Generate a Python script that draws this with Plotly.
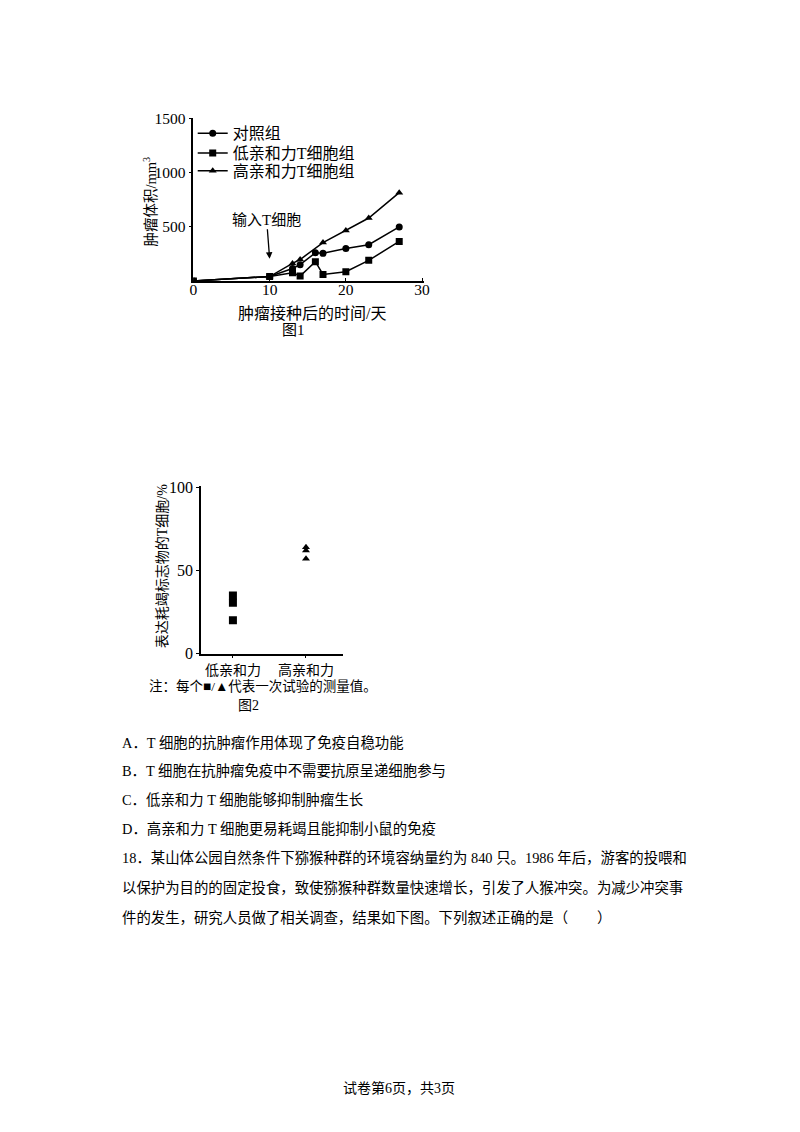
import plotly.graph_objects as go

# 图1: 肿瘤体积随时间变化
days_ctrl = [0, 10, 13, 14, 16, 17, 20, 23, 27]
vol_ctrl = [0, 40, 115, 150, 260, 255, 300, 335, 500]
days_low = [0, 10, 13, 14, 16, 17, 20, 23, 27]
vol_low = [0, 40, 75, 45, 178, 60, 85, 190, 365]
days_high = [0, 10, 13, 14, 17, 20, 23, 27]
vol_high = [0, 40, 162, 198, 355, 466, 582, 817]
series_names = ["对照组", "低亲和力T细胞组", "高亲和力T细胞组"]

# 图2: 表达耗竭标志物的T细胞/%
groups = ["低亲和力", "高亲和力"]
pct_low = [35, 30.5, 20]
pct_high = [64, 62, 57]

W, H = 800, 1132
OFF = 8  # page body margin
FONT = "Liberation Serif, Noto Sans CJK SC, serif"


def px(x):
    return (x - OFF) / W


def py(y):
    return 1 - (y - OFF) / H


fig = go.Figure()

line = dict(color="black", width=1.5)
fig.add_trace(go.Scatter(x=days_ctrl, y=vol_ctrl, name=series_names[0], mode="lines+markers",
                         line=line, marker=dict(symbol="circle", size=7, color="black"),
                         legend="legend"))
fig.add_trace(go.Scatter(x=days_low, y=vol_low, name=series_names[1], mode="lines+markers",
                         line=line, marker=dict(symbol="square", size=7, color="black"),
                         legend="legend2"))
fig.add_trace(go.Scatter(x=days_high, y=vol_high, name=series_names[2], mode="lines+markers",
                         line=line, marker=dict(symbol="triangle-up", size=7, color="black"),
                         legend="legend3"))

fig.add_trace(go.Scatter(x=[1] * len(pct_low), y=pct_low, mode="markers", showlegend=False,
                         marker=dict(symbol="square", size=8, color="black"),
                         xaxis="x2", yaxis="y2"))
fig.add_trace(go.Scatter(x=[2] * len(pct_high), y=pct_high, mode="markers", showlegend=False,
                         marker=dict(symbol="triangle-up", size=7, color="black"),
                         xaxis="x2", yaxis="y2"))


def ax_style(size, ticks="outside"):
    return dict(showline=True, linecolor="black", linewidth=1.5, showgrid=False, zeroline=False,
                ticks=ticks, ticklen=3, tickcolor="black", tickwidth=1.2,
                tickfont=dict(family=FONT, size=size, color="black"))


def leg(y):
    return dict(x=px(191), y=py(y), xanchor="left", yanchor="middle",
                font=dict(family=FONT, size=16, color="black"),
                bgcolor="rgba(0,0,0,0)", itemwidth=30)


fig.update_layout(
    width=W, height=H,
    margin=dict(l=0, r=0, t=0, b=0),
    paper_bgcolor="white", plot_bgcolor="white",
    font=dict(family=FONT, color="black"),
    xaxis=dict(domain=[px(191.7), px(425.6)], range=[0, 30.3], tickvals=[0, 10, 20, 30],
               anchor="y", ticklabelstandoff=-6, **ax_style(15.5, "inside")),
    yaxis=dict(domain=[py(277.7), py(112.3)], range=[0, 1510], tickvals=[500, 1000, 1500],
               anchor="x", **ax_style(15.5)),
    xaxis2=dict(domain=[px(199.3), px(343.3)], range=[0.562, 2.508], tickvals=[1, 2],
                ticktext=groups, anchor="y2", **ax_style(14)),
    yaxis2=dict(domain=[py(655.7), py(485.5)], range=[0, 101], tickvals=[0, 50, 100],
                anchor="x2", **ax_style(16)),
    legend=leg(128),
    legend2=leg(148),
    legend3=leg(166),
    showlegend=True,
)

ann = []


def text(x, y, s, size=14, anchor="center", angle=0):
    ann.append(dict(x=px(x), y=py(y), xref="paper", yref="paper", text=s, showarrow=False,
                    xanchor=anchor, yanchor="middle", textangle=angle,
                    font=dict(family=FONT, size=size, color="black")))


# 图1 文字
text(148, 197, "肿瘤体积/mm<sup>3</sup>", 14.5, angle=-90)
text(312, 311, "肿瘤接种后的时间/天", 16)
text(293, 328, "图1", 15)
# 输入T细胞 + 箭头
ann.append(dict(x=10, y=205, xref="x", yref="y", ax=-3, ay=-39, text="输入T细胞", showarrow=True,
                arrowhead=2, arrowsize=1, arrowwidth=1.3, arrowcolor="black", standoff=0,
                font=dict(family=FONT, size=15, color="black")))

# 图2 文字
text(160, 567, "表达耗竭标志物的T细胞/%", 14, angle=-90)
text(145, 689, "注：每个■/▲代表一次试验的测量值。", 13.5, anchor="left")
text(247, 708, "图2", 14)

# 题目文字
lines = [
    (746, "A．T 细胞的抗肿瘤作用体现了免疫自稳功能"),
    (775, "B．T 细胞在抗肿瘤免疫中不需要抗原呈递细胞参与"),
    (804, "C．低亲和力 T 细胞能够抑制肿瘤生长"),
    (834, "D．高亲和力 T 细胞更易耗竭且能抑制小鼠的免疫"),
    (863, "18．某山体公园自然条件下猕猴种群的环境容纳量约为 840 只。1986 年后，游客的投喂和"),
    (894, "以保护为目的的固定投食，致使猕猴种群数量快速增长，引发了人猴冲突。为减少冲突事"),
    (924, "件的发生，研究人员做了相关调查，结果如下图。下列叙述正确的是（　　）"),
]
for yy, s in lines:
    text(117, yy, s, 14.4, anchor="left")

text(400, 1096, "试卷第6页，共3页", 14)

fig.update_layout(annotations=ann)
fig.write_html("out.html")
